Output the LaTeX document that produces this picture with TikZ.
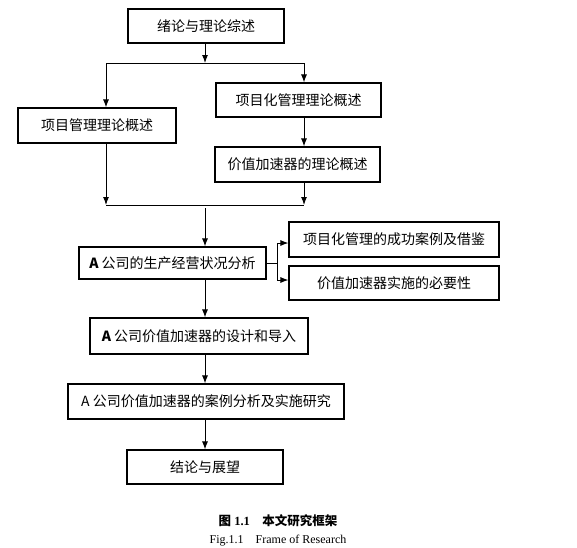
\documentclass[tikz,border=0pt]{standalone}
\usepackage{fontspec}
\setmainfont{Liberation Serif}
\newfontfamily\cjk{Noto Sans CJK SC}
\usetikzlibrary{arrows.meta}
\begin{document}
\begin{tikzpicture}[x=1pt,y=-1pt,
  box/.style={draw,line width=1.1pt,rectangle,inner sep=0pt,font=\cjk\fontsize{14}{16}\selectfont},
  arr/.style={line width=1pt,-{Latex[length=8pt,width=6pt]}},
  ln/.style={line width=1pt}]
\useasboundingbox (0,0) rectangle (577,547);
\node[box,minimum width=156pt,minimum height=34pt] (B1) at (206,26) {绪论与理论综述};
\node[box,minimum width=158pt,minimum height=35pt] (L) at (97,125.5) {项目管理理论概述};
\node[box,minimum width=165pt,minimum height=34pt] (R1) at (298.5,100) {项目化管理理论概述};
\node[box,minimum width=165pt,minimum height=35pt] (R2) at (297.5,164.5) {价值加速器的理论概述};
\node[box,minimum width=187pt,minimum height=32pt] (A) at (172.5,263) {\textbf{A} 公司的生产经营状况分析};
\node[box,minimum width=210pt,minimum height=35pt] (S1) at (394,239.5) {项目化管理的成功案例及借鉴};
\node[box,minimum width=210pt,minimum height=34pt] (S2) at (394,283) {价值加速器实施的必要性};
\node[box,minimum width=218pt,minimum height=36pt] (D) at (199,336) {\textbf{A} 公司价值加速器的设计和导入};
\node[box,minimum width=276pt,minimum height=35pt] (C) at (206,401.5) {A 公司价值加速器的案例分析及实施研究};
\node[box,minimum width=156pt,minimum height=34pt] (E) at (205,467) {结论与展望};

\coordinate (t) at (205,63);
\coordinate (tl) at (106,63);
\coordinate (tr) at (304,63);
\draw[arr] (B1.south -| t) -- (t);
\draw[ln] (tl) -- (tr);
\draw[arr] (tl) -- (tl |- L.north);
\draw[arr] (tr) -- (tr |- R1.north);
\draw[arr] (tr |- R1.south) -- (tr |- R2.north);
\coordinate (ml) at (106,205);
\coordinate (mr) at (304,205);
\draw[arr] (tl |- L.south) -- (ml);
\draw[arr] (tr |- R2.south) -- (mr);
\draw[ln] (ml) -- (mr);
\coordinate (m) at (205,208);
\draw[arr] (m) -- (m |- A.north);
\coordinate (br) at (277,263);
\coordinate (bt) at (277,243);
\coordinate (bb) at (277,280);
\draw[ln] (A.east) -- (br);
\draw[ln] (bt) -- (bb);
\draw[arr] (bt) -- (bt -| S1.west);
\draw[arr] (bb) -- (bb -| S2.west);
\draw[arr] (m |- A.south) -- (m |- D.north);
\draw[arr] (m |- D.south) -- (m |- C.north);
\draw[arr] (m |- C.south) -- (m |- E.north);

\node[font=\fontsize{12.5}{14}\selectfont] (cap1) at (278,521) {{\cjk\bfseries 图} \textbf{1.1}\hspace{1em}{\cjk\bfseries 本文研究框架}};
\node[font=\fontsize{12}{14}\selectfont] (cap2) at (278,541) {Fig.1.1\hspace{1em}Frame of Research};
\end{tikzpicture}
\end{document}
